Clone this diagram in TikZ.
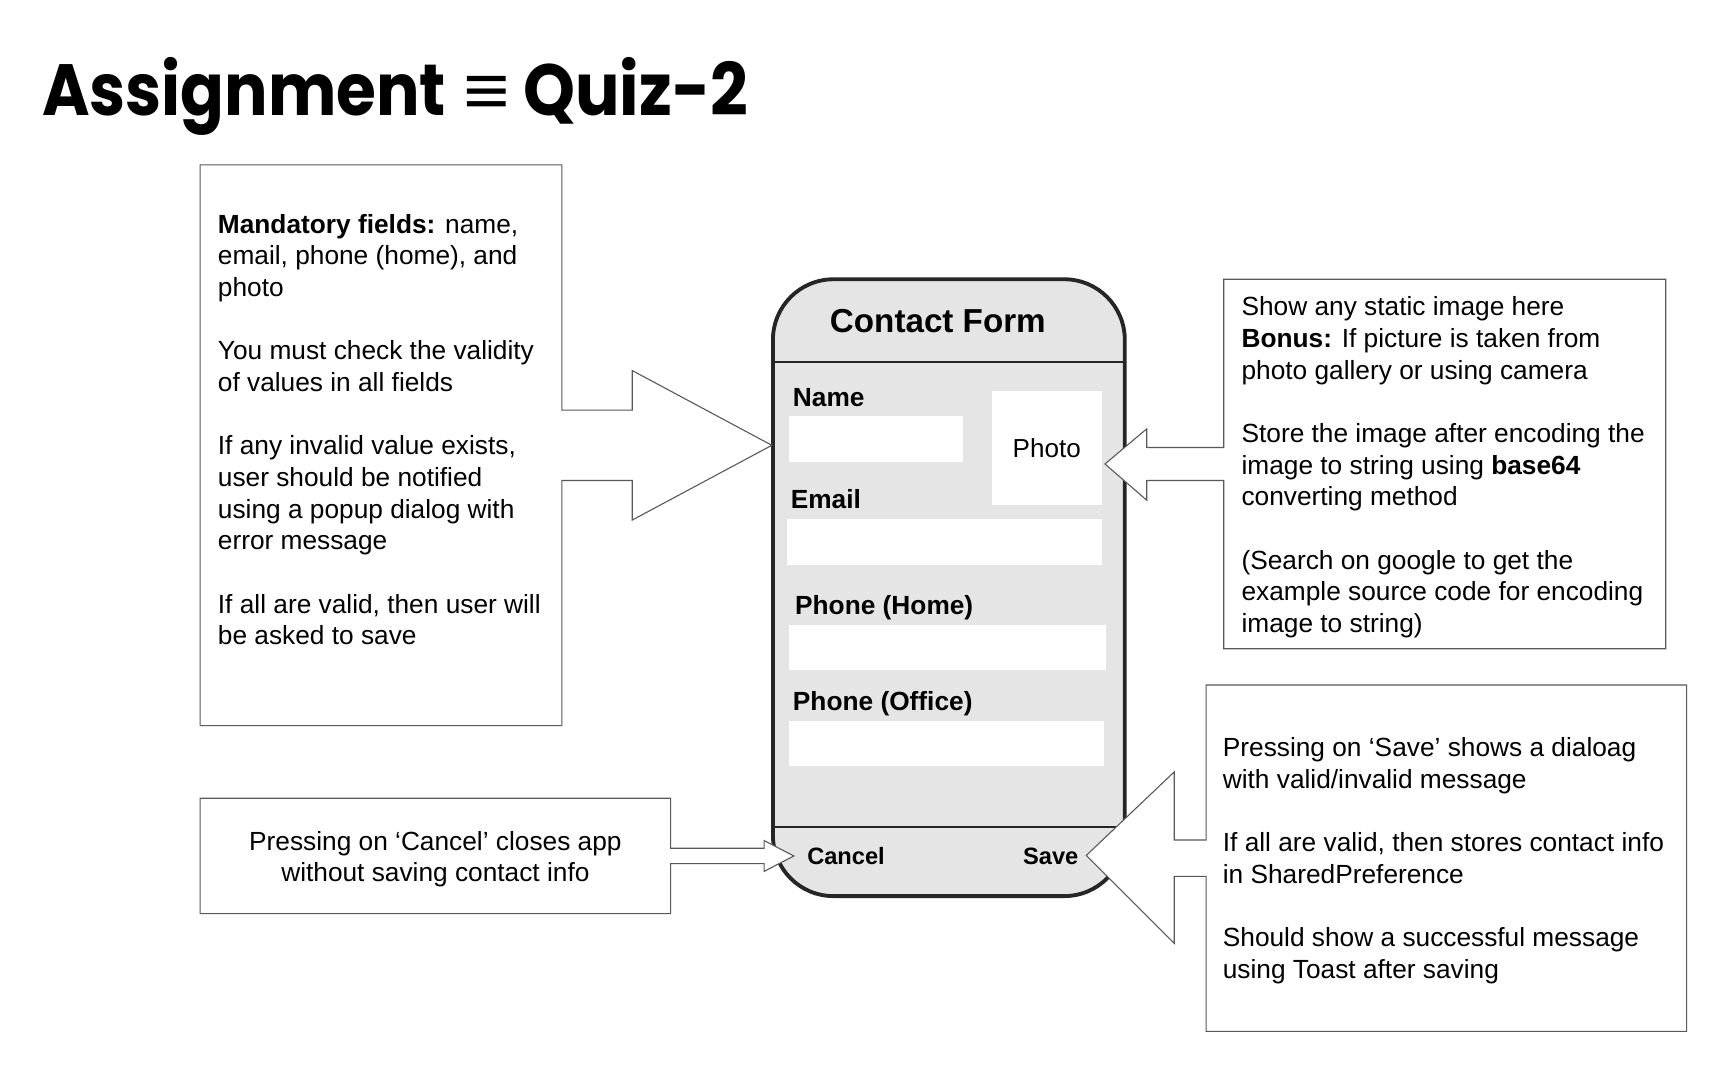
\documentclass[tikz,border=0pt]{standalone}
\usepackage{graphicx}
\usepackage{fontspec}
\setmainfont{Liberation Sans}
\newfontfamily\titlefont{Poppins}
\newfontfamily\symfont{Liberation Sans}
\definecolor{phonefill}{HTML}{E5E5E5}
\definecolor{phoneborder}{HTML}{262626}
\definecolor{calloutgray}{HTML}{595959}
\begin{document}
\begin{tikzpicture}[x=1pt,y=-1pt,
  callout/.style={draw=calloutgray, line width=1pt, fill=white, line join=miter},
  body/.style={font=\fontsize{23.9}{28.8}\selectfont, align=left, inner sep=0pt, anchor=north west},
  lbl/.style={font=\fontsize{23.9}{28.8}\selectfont\bfseries, inner sep=0pt, anchor=base west},
  btn/.style={font=\fontsize{21.5}{26}\selectfont\bfseries, inner sep=0pt},
  field/.style={fill=white, draw=none}]
\useasboundingbox[fill=white] (0,0) rectangle (1568,982);

% title
\node[anchor=base west, inner sep=0pt, font=\titlefont\bfseries\fontsize{66}{70}\selectfont] (title) at (38,105)
  {\scalebox{0.89}[1]{Assignment}\hspace{16pt}{\symfont\mdseries\scalebox{1.1}[1]{≡}}\hspace{12pt}\scalebox{0.91}[1]{Quiz-2}};

% phone
\draw[fill=phonefill, draw=phoneborder, line width=3.5pt, rounded corners=55pt] (703,254) rectangle (1023,815);
\draw[phoneborder, line width=2pt] (705,329) -- (1021,329);
\draw[phoneborder, line width=2pt] (705,752) -- (1021,752);
\node[font=\fontsize{30.2}{34}\selectfont\bfseries, inner sep=0pt, anchor=base] (formtitle) at (853,302) {Contact Form};

\node[lbl] (lname) at (721,369.5) {Name};
\fill[field] (718,378) rectangle (876,420);
\node[field, minimum width=100pt, minimum height=103pt, inner sep=0pt, font=\fontsize{23.7}{28}\selectfont] (photo) at (952,407.5) {\raisebox{-2pt}{Photo}};
\node[lbl] (lemail) at (719,462.5) {Email};
\fill[field] (716,472) rectangle (1002,514);
\node[lbl] (lhome) at (723,558.5) {Phone (Home)};
\fill[field] (718,568) rectangle (1006,609);
\node[lbl] (loffice) at (721,646.5) {Phone (Office)};
\fill[field] (718,656) rectangle (1004,697);

% callouts
\draw[callout] (511,150) -- (511,373) -- (575,373) -- (575,337) -- (702,405) -- (575,473) -- (575,437)
  -- (511,437) -- (511,660) -- (182,660) -- (182,150) -- cycle;
\draw[callout] (182,726) -- (610,726) -- (610,771.5) -- (695,771.5) -- (695,764.5) -- (722,778.5) -- (695,792.5)
  -- (695,785.5) -- (610,785.5) -- (610,831) -- (182,831) -- cycle;
\draw[callout] (1113,254) -- (1515,254) -- (1515,590) -- (1113,590) -- (1113,437) -- (1043,437) -- (1043,455)
  -- (1005,422) -- (1043,390) -- (1043,407) -- (1113,407) -- cycle;
\draw[callout] (1097,623) -- (1534,623) -- (1534,938) -- (1097,938) -- (1097,797) -- (1068,797) -- (1068,858)
  -- (988,778) -- (1068,702) -- (1068,764) -- (1097,764) -- cycle;

\node[btn, anchor=base west] (cancel) at (734,786) {Cancel};
\node[btn, anchor=base east] (save) at (981,786) {Save};

% texts
\node[body] (rules) at (198,191.8) {\strut\textbf{Mandatory fields:} name,\\email, phone (home), and\\photo\\[28.8pt]
You must check the validity\\of values in all fields\\[28.8pt]
If any invalid value exists,\\user should be notified\\using a popup dialog with\\error message\\[28.8pt]
If all are valid, then user will\\be asked to save};

\node[body, align=center, anchor=north] (cancelnote) at (396,752.8) {\strut Pressing on ‘Cancel’ closes app\\without saving contact info};

\node[body] (photonote) at (1129,266.8) {\strut Show any static image here\\\textbf{Bonus:} If picture is taken from\\photo gallery or using camera\\[28.8pt]
Store the image after encoding the\\image to string using \textbf{base64}\\converting method\\[28.8pt]
(Search on google to get the\\example source code for encoding\\image to string)};

\node[body] (savenote) at (1112,667.8) {\strut Pressing on ‘Save’ shows a dialoag\\with valid/invalid message\\[28.8pt]
If all are valid, then stores contact info\\in SharedPreference\\[28.8pt]
Should show a successful message\\using Toast after saving};
\end{tikzpicture}
\end{document}
